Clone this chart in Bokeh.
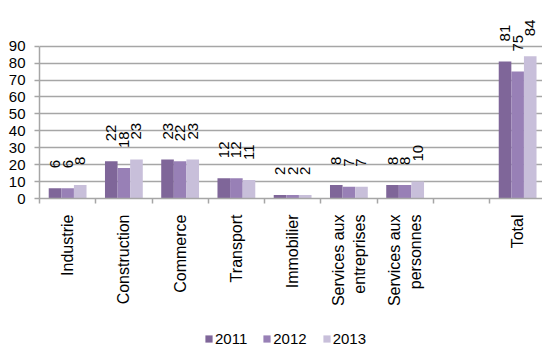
import math
from bokeh.plotting import figure
from bokeh.layouts import column
from bokeh.models import (ColumnDataSource, FixedTicker, Range1d, Legend, LegendItem)
from bokeh.core.properties import value
from bokeh.embed import file_html
from bokeh.resources import INLINE

categories = ["Industrie", "Construction", "Commerce", "Transport", "Immobilier",
              "Services aux\nentreprises", "Services aux\npersonnes", "", "Total"]
years = ["2011", "2012", "2013"]
v2011 = [6, 22, 23, 12, 2, 8, 8, None, 81]
v2012 = [6, 18, 22, 12, 2, 7, 8, None, 75]
v2013 = [8, 23, 23, 11, 2, 7, 10, None, 84]
y_ticks = [0, 10, 20, 30, 40, 50, 60, 70, 80, 90]
colors = ["#7f6699", "#9880b6", "#c8bfda"]

FONT = "Liberation Sans"
GRID = "#a6a6a6"
BAR_W = 0.224

p = figure(width=542, height=318, output_backend="svg", toolbar_location=None,
           x_range=Range1d(-0.5, 8.442), y_range=Range1d(0, 117),
           min_border_left=39, min_border_right=0, min_border_top=0,
           min_border_bottom=120)
p.outline_line_color = None
p.background_fill_color = "white"
p.border_fill_color = "white"

# x axis
xa = p.xaxis[0]
xa.ticker = FixedTicker(ticks=list(range(len(categories))),
                        minor_ticks=[i - 0.5 for i in range(len(categories) + 1)])
xa.major_label_overrides = {i: c for i, c in enumerate(categories)}
xa.major_label_orientation = math.pi / 2
xa.major_tick_out = 0
xa.major_tick_in = 0
xa.minor_tick_out = 5
xa.minor_tick_in = 0
xa.minor_tick_line_color = GRID
xa.minor_tick_line_width = 1.5
xa.axis_line_color = GRID
xa.axis_line_width = 1.5
xa.major_label_standoff = 11
xa.major_label_text_font = FONT
xa.major_label_text_font_size = "16px"
xa.major_label_text_color = "black"

# y axis
ya = p.yaxis[0]
ya.ticker = FixedTicker(ticks=y_ticks)
ya.bounds = (0, 90)
ya.axis_line_color = GRID
ya.axis_line_width = 1.5
ya.major_tick_out = 5
ya.major_tick_in = 0
ya.major_tick_line_color = GRID
ya.major_tick_line_width = 1.5
ya.minor_tick_line_color = None
ya.major_label_standoff = 9
ya.major_label_text_font = FONT
ya.major_label_text_font_size = "15px"
ya.major_label_text_color = "black"

p.xgrid.grid_line_color = None
p.ygrid.ticker = FixedTicker(ticks=y_ticks)
p.ygrid.grid_line_color = GRID
p.ygrid.grid_line_width = 1.5

# legend strip (separate figure below the chart)
lf = figure(width=542, height=29, output_backend="svg", toolbar_location=None,
            x_range=Range1d(0, 1), y_range=Range1d(1000, 1001),
            x_axis_type=None, y_axis_type=None,
            min_border_left=0, min_border_right=0, min_border_top=0,
            min_border_bottom=0)
lf.outline_line_color = None
lf.xgrid.visible = False
lf.ygrid.visible = False

items = []
for j, (yr, vals, col) in enumerate(zip(years, [v2011, v2012, v2013], colors)):
    xs, tops, txt = [], [], []
    for i, v in enumerate(vals):
        if v is None:
            continue
        xs.append(i + (j - 1) * BAR_W)
        tops.append(v)
        txt.append(str(v))
    src = ColumnDataSource(dict(x=xs, top=tops, txt=txt))
    p.vbar(x="x", top="top", width=BAR_W, source=src, fill_color=col, line_color=None)
    p.text(x="x", y="top", text="txt", source=src, angle=math.pi / 2,
           text_align="left", text_baseline="middle", y_offset=-20,
           text_font=value(FONT), text_font_size="15px", text_color="black")
    r = lf.vbar(x="x", top="top", width=BAR_W, source=src, fill_color=col, line_color=None)
    items.append(LegendItem(label=yr, renderers=[r]))

legend = Legend(items=items, orientation="horizontal", location=(165, 0),
                glyph_width=9, glyph_height=9, label_standoff=2, spacing=15,
                label_height=16,
                padding=0, margin=0, border_line_color=None,
                background_fill_alpha=0,
                label_text_font=FONT, label_text_font_size="15px",
                label_text_color="black")
lf.add_layout(legend, "center")

layout = column(p, lf, spacing=0)
open("out.html", "w").write(file_html(layout, INLINE))
